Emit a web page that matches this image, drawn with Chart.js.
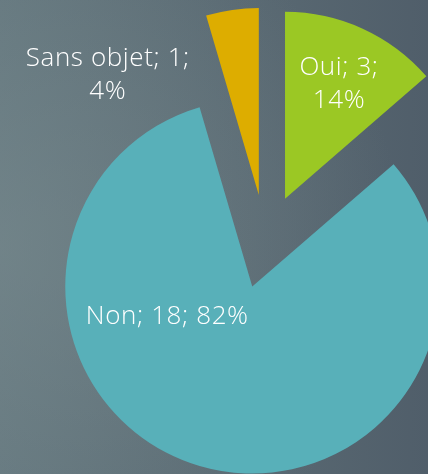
<!DOCTYPE html>
<html>
<head>
<meta charset="utf-8">
<script src="https://cdn.jsdelivr.net/npm/chart.js@4.4.1/dist/chart.umd.min.js"></script>
<style>
  html, body { margin: 0; padding: 0; }
  body {
    width: 428px; height: 474px; overflow: hidden; position: relative;
    background:
      radial-gradient(ellipse 95% 75% at 0% 52%, rgba(122,140,144,0.55) 0%, rgba(122,140,144,0) 100%),
      linear-gradient(to right, #65787f 0%, #5a6a73 55%, #505e6a 100%);
  }
  #wrap { position: absolute; left: 0; top: 0; width: 531px; height: 483px; }
</style>
</head>
<body>
<div id="wrap"><canvas id="c" width="531" height="483"></canvas></div>
<script>
// ---- data ----
const categories = ['Oui', 'Non', 'Sans objet'];
const counts = [3, 18, 1];
const percents = [14, 82, 4];

// ---- style ----
const sliceColors = ['#9bc824', '#58b0b9', '#ddad00'];
const EXPLODE = 47;      // explosion distance, px
const PIE_RADIUS = 187;  // px
const labelFont = '300 26px "Open Sans", Lato, sans-serif';
const lineHeight = 33;
// label block centre relative to each exploded slice apex
const labelOffsets = [ {dx: 54, dy: -115}, {dx: -85, dy: 30}, {dx: -151, dy: -120} ];
const labelLines = [
  (i) => [`${categories[i]}; ${counts[i]};`, `${percents[i]}%`],
  (i) => [`${categories[i]}; ${counts[i]}; ${percents[i]}%`],
  (i) => [`${categories[i]}; ${counts[i]};`, `${percents[i]}%`]
];

// exploded slices: translate each arc along its mid angle
const ArcEl = Chart.registry.getElement('arc');
const baseDraw = ArcEl.prototype.draw;
ArcEl.prototype.draw = function (ctx, area) {
  const mid = (this.startAngle + this.endAngle) / 2;
  ctx.save();
  ctx.translate(Math.cos(mid) * EXPLODE, Math.sin(mid) * EXPLODE);
  baseDraw.call(this, ctx, area);
  ctx.restore();
};

const labelPlugin = {
  id: 'sliceLabels',
  afterDatasetsDraw(chart) {
    const ctx = chart.ctx;
    const meta = chart.getDatasetMeta(0);
    ctx.save();
    ctx.font = labelFont;
    if ('letterSpacing' in ctx) ctx.letterSpacing = '0.6px';
    ctx.fillStyle = '#ffffff';
    ctx.textAlign = 'center';
    ctx.textBaseline = 'middle';
    meta.data.forEach((arc, i) => {
      const mid = (arc.startAngle + arc.endAngle) / 2;
      const ax = arc.x + Math.cos(mid) * EXPLODE;
      const ay = arc.y + Math.sin(mid) * EXPLODE;
      const lines = labelLines[i](i);
      const cx = ax + labelOffsets[i].dx;
      const cy = ay + labelOffsets[i].dy;
      const top = cy - (lines.length - 1) * lineHeight / 2;
      lines.forEach((t, k) => ctx.fillText(t, cx, top + k * lineHeight));
    });
    ctx.restore();
  }
};

new Chart(document.getElementById('c'), {
  type: 'pie',
  data: {
    labels: categories,
    datasets: [{
      data: counts,
      backgroundColor: sliceColors,
      borderWidth: 0,
      radius: PIE_RADIUS,
      clip: false
    }]
  },
  options: {
    responsive: false,
    animation: false,
    layout: { padding: 0 },
    plugins: { legend: { display: false }, tooltip: { enabled: false } }
  },
  plugins: [labelPlugin]
});
</script>
</body>
</html>
